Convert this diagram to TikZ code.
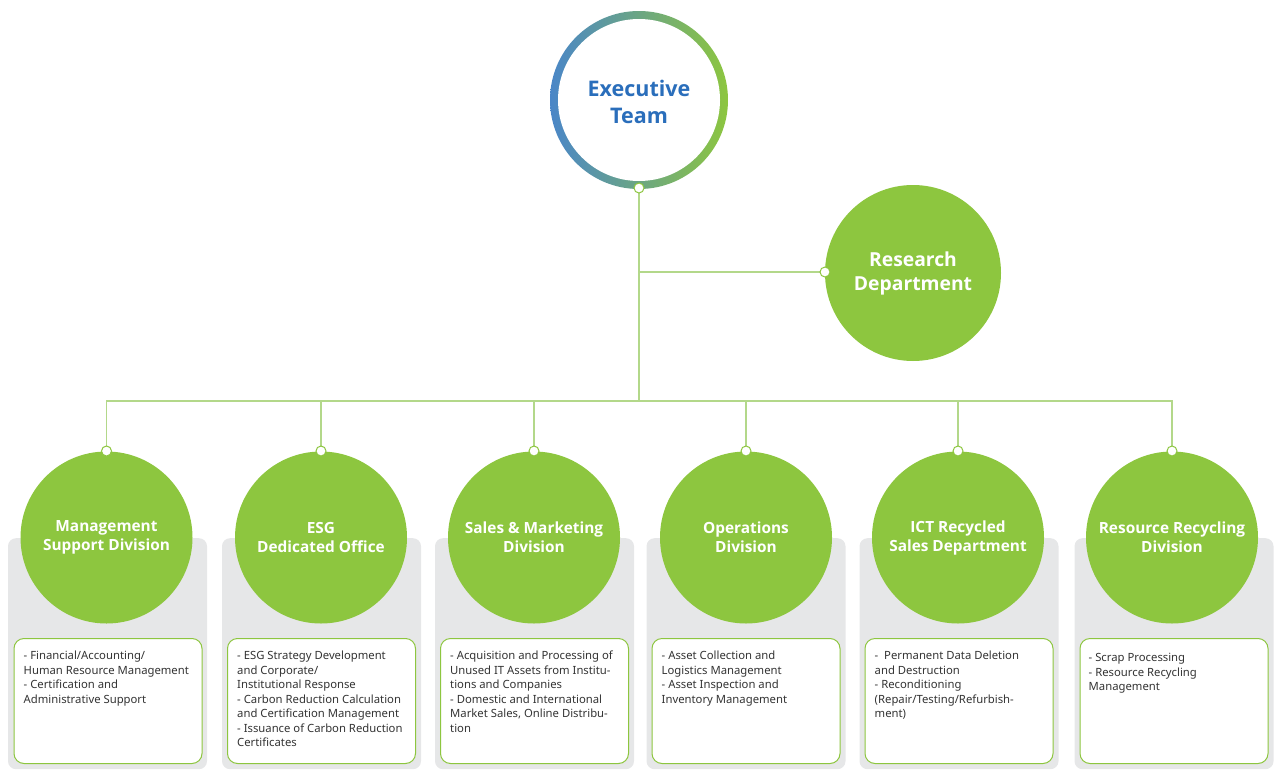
\documentclass[tikz,border=0pt]{standalone}
\usepackage{fontspec}
\setmainfont{Noto Sans}
\newfontfamily\titlefont{Open Sans}
\definecolor{leaf}{HTML}{8DC63F}
\definecolor{linegreen}{HTML}{B3D88A}
\definecolor{ringblue}{HTML}{4A86C8}
\definecolor{execblue}{HTML}{2A6EBB}
\definecolor{panelgray}{HTML}{E6E7E8}
\definecolor{bodytext}{HTML}{333333}
\begin{document}
\begin{tikzpicture}[x=1pt,y=-1pt,
  conn/.style={draw=linegreen, line width=1.4pt},
  dotnode/.style={circle, draw=leaf, fill=white, line width=1pt, minimum size=10pt, inner sep=0pt},
  divnode/.style={circle, fill=leaf, minimum size=172pt, inner sep=0pt, text=white, align=center,
    font=\titlefont\bfseries\fontsize{15.4}{19}\selectfont},
  panelnode/.style={fill=panelgray, rounded corners=8pt, minimum width=199pt, minimum height=231pt, inner sep=0pt, anchor=north},
  boxnode/.style={fill=white, draw=leaf, line width=1pt, rounded corners=10pt, minimum width=188pt, minimum height=125pt, inner sep=0pt, anchor=north},
  bodynode/.style={anchor=north west, inner sep=0pt, align=left, text=bodytext, font=\fontsize{11.3}{14.5}\selectfont}
]
\useasboundingbox (0,0) rectangle (1280,779);

% panels
\foreach \i/\x in {1/107.5,2/321.5,3/534.5,4/746,5/959,6/1174}{
  \node[panelnode] (p\i) at (\x,538) {};
}

% executive ring
\shade[left color=ringblue, right color=leaf] (639,100) circle[radius=89pt];
\fill[white] (639,100) circle[radius=81pt];
\node[circle, minimum size=162pt, inner sep=0pt, text=execblue, align=center,
  font=\titlefont\bfseries\fontsize{21.5}{27}\selectfont] (exec) at (639,102) {Executive\\Team};

% research
\node[divnode, minimum size=176pt, font=\titlefont\bfseries\fontsize{19.3}{24}\selectfont] (res) at (913,273) {Research\\Department};

% division circles
\node[divnode] (c1) at (106.5,537.5) {Management\\Support Division};
\node[divnode] (c2) at (321,537.5) {ESG\\Dedicated Office};
\node[divnode] (c3) at (534,537.5) {Sales \& Marketing\\Division};
\node[divnode] (c4) at (746,537.5) {Operations\\Division};
\node[divnode] (c5) at (958,537.5) {ICT Recycled\\Sales Department};
\node[divnode] (c6) at (1172,537.5) {Resource Recycling\\Division};

% white boxes
\foreach \i/\x in {1/108,2/321.5,3/534.5,4/746,5/959,6/1174}{
  \node[boxnode] (b\i) at (\x,638) {};
}

% box texts
\node[bodynode] (t1) at ([xshift=10pt,yshift=-13pt]b1.north west) {- Financial/Accounting/\\Human Resource Management\\- Certification and\\Administrative Support};
\node[bodynode] (t2) at ([xshift=10pt,yshift=-13pt]b2.north west) {- ESG Strategy Development\\and Corporate/\\Institutional Response\\- Carbon Reduction Calculation\\and Certification Management\\- Issuance of Carbon Reduction\\Certificates};
\node[bodynode] (t3) at ([xshift=10pt,yshift=-13pt]b3.north west) {- Acquisition and Processing of\\Unused IT Assets from Institu-\\tions and Companies\\- Domestic and International\\Market Sales, Online Distribu-\\tion};
\node[bodynode] (t4) at ([xshift=10pt,yshift=-13pt]b4.north west) {- Asset Collection and\\Logistics Management\\- Asset Inspection and\\Inventory Management};
\node[bodynode] (t5) at ([xshift=10pt,yshift=-13pt]b5.north west) {-\ \ Permanent Data Deletion\\and Destruction\\- Reconditioning\\(Repair/Testing/Refurbish-\\ment)};
\node[bodynode] (t6) at ([xshift=9pt,yshift=-15pt]b6.north west) {- Scrap Processing\\- Resource Recycling\\Management};

% connector points
\coordinate (pe) at (639,188);
\coordinate (pr) at (825,272);
\coordinate (jr) at (639,272);
\coordinate (jb) at (639,401);
\foreach \i/\x in {1/106.5,2/321,3/534,4/746,5/958,6/1172}{
  \coordinate (p\i) at (\x,451);
}
\draw[conn] (pe) -- (jb);
\draw[conn] (jr) -- (pr);
\foreach \i in {1,...,6}{
  \draw[conn] (jb) -| (p\i);
}
% dots
\node[dotnode] (de) at (pe) {};
\node[dotnode] (dr) at (pr) {};
\foreach \i in {1,...,6}{
  \node[dotnode] (d\i) at (p\i) {};
}
\end{tikzpicture}
\end{document}
